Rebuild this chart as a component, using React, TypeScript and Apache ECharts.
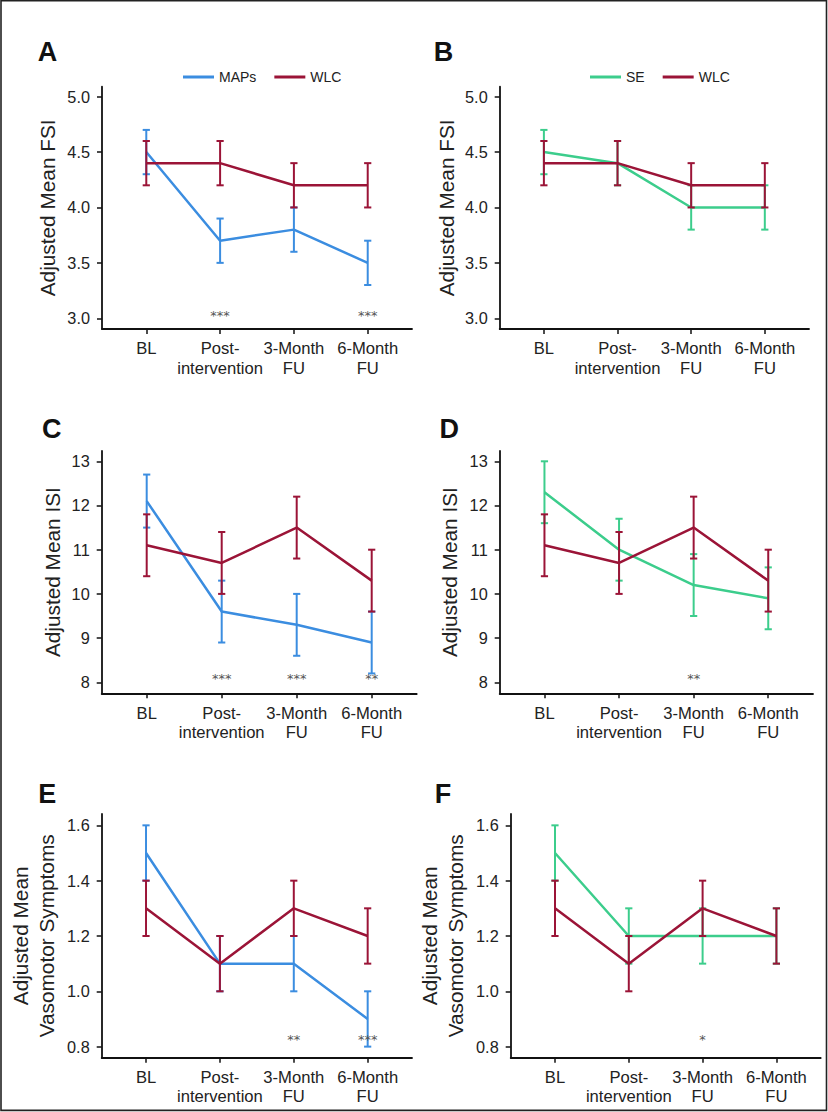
import React, { useEffect, useRef } from "react";
import * as echarts from "echarts";

const FONT = "'Liberation Sans', Arial, Helvetica, sans-serif";

const timepoints = ["BL", "Post-\nintervention", "3-Month\nFU", "6-Month\nFU"];
const timeIndex = [0, 1, 2, 3];

// FSI (panels A, B)
const fsiMAPs = [4.5, 3.7, 3.8, 3.5];
const fsiMAPsLow = [4.3, 3.5, 3.6, 3.3];
const fsiMAPsHigh = [4.7, 3.9, 4.0, 3.7];
const fsiSE = [4.5, 4.4, 4.0, 4.0];
const fsiSELow = [4.3, 4.2, 3.8, 3.8];
const fsiSEHigh = [4.7, 4.6, 4.2, 4.2];
const fsiWLC = [4.4, 4.4, 4.2, 4.2];
const fsiWLCLow = [4.2, 4.2, 4.0, 4.0];
const fsiWLCHigh = [4.6, 4.6, 4.4, 4.4];

// ISI (panels C, D)
const isiMAPs = [12.1, 9.6, 9.3, 8.9];
const isiMAPsLow = [11.5, 8.9, 8.6, 8.2];
const isiMAPsHigh = [12.7, 10.3, 10.0, 9.6];
const isiSE = [12.3, 11.0, 10.2, 9.9];
const isiSELow = [11.6, 10.3, 9.5, 9.2];
const isiSEHigh = [13.0, 11.7, 10.9, 10.6];
const isiWLC = [11.1, 10.7, 11.5, 10.3];
const isiWLCLow = [10.4, 10.0, 10.8, 9.6];
const isiWLCHigh = [11.8, 11.4, 12.2, 11.0];

// Vasomotor symptoms (panels E, F)
const vmsMAPs = [1.5, 1.1, 1.1, 0.9];
const vmsMAPsLow = [1.4, 1.0, 1.0, 0.8];
const vmsMAPsHigh = [1.6, 1.2, 1.2, 1.0];
const vmsSE = [1.5, 1.2, 1.2, 1.2];
const vmsSELow = [1.4, 1.1, 1.1, 1.1];
const vmsSEHigh = [1.6, 1.3, 1.3, 1.3];
const vmsWLC = [1.3, 1.1, 1.3, 1.2];
const vmsWLCLow = [1.2, 1.0, 1.2, 1.1];
const vmsWLCHigh = [1.4, 1.2, 1.4, 1.3];

// significance markers
const sigA = ["", "***", "", "***"];
const sigB = ["", "", "", ""];
const sigC = ["", "***", "***", "**"];
const sigD = ["", "", "**", ""];
const sigE = ["", "", "**", "***"];
const sigF = ["", "", "*", ""];

// tick labels
const fsiTicks = [3.0, 3.5, 4.0, 4.5, 5.0];
const isiTicks = [8, 9, 10, 11, 12, 13];
const vmsTicks = [0.8, 1.0, 1.2, 1.4, 1.6];

const BLUE = "#3b8de0";
const RED = "#9b1437";
const GREEN = "#3ccd8c";

type Panel = {
  letter: string;
  letterPos: [number, number];
  grid: { left: number; top: number; width: number; height: number };
  yMin: number;
  yMax: number;
  ticks: number[];
  decimals: number;
  title: string;
  nameGap: number;
  nameLineHeight: number;
  treatName: string;
  treatColor: string;
  treat: number[];
  treatLow: number[];
  treatHigh: number[];
  wlc: number[];
  wlcLow: number[];
  wlcHigh: number[];
  sig: string[];
  sigY: number;
};

const panels: Panel[] = [
  {
    letter: "A", letterPos: [47.5, 52],
    grid: { left: 102, top: 86.7, width: 310, height: 242.3 },
    yMin: 2.903, yMax: 5.09, ticks: fsiTicks, decimals: 1,
    title: "Adjusted Mean FSI", nameGap: 44, nameLineHeight: 21,
    treatName: "MAPs", treatColor: BLUE, treat: fsiMAPs, treatLow: fsiMAPsLow, treatHigh: fsiMAPsHigh,
    wlc: fsiWLC, wlcLow: fsiWLCLow, wlcHigh: fsiWLCHigh, sig: sigA, sigY: 3.05,
  },
  {
    letter: "B", letterPos: [443.5, 52],
    grid: { left: 499.7, top: 86.7, width: 309.3, height: 242.3 },
    yMin: 2.903, yMax: 5.09, ticks: fsiTicks, decimals: 1,
    title: "Adjusted Mean FSI", nameGap: 43, nameLineHeight: 21,
    treatName: "SE", treatColor: GREEN, treat: fsiSE, treatLow: fsiSELow, treatHigh: fsiSEHigh,
    wlc: fsiWLC, wlcLow: fsiWLCLow, wlcHigh: fsiWLCHigh, sig: sigB, sigY: 3.05,
  },
  {
    letter: "C", letterPos: [51.7, 429],
    grid: { left: 101.7, top: 451, width: 315, height: 242.3 },
    yMin: 7.751, yMax: 13.233, ticks: isiTicks, decimals: 0,
    title: "Adjusted Mean ISI", nameGap: 39, nameLineHeight: 21,
    treatName: "MAPs", treatColor: BLUE, treat: isiMAPs, treatLow: isiMAPsLow, treatHigh: isiMAPsHigh,
    wlc: isiWLC, wlcLow: isiWLCLow, wlcHigh: isiWLCHigh, sig: sigC, sigY: 8.165,
  },
  {
    letter: "D", letterPos: [449.3, 429.3],
    grid: { left: 499.7, top: 451, width: 313.3, height: 242.3 },
    yMin: 7.751, yMax: 13.233, ticks: isiTicks, decimals: 0,
    title: "Adjusted Mean ISI", nameGap: 40, nameLineHeight: 21,
    treatName: "SE", treatColor: GREEN, treat: isiSE, treatLow: isiSELow, treatHigh: isiSEHigh,
    wlc: isiWLC, wlcLow: isiWLCLow, wlcHigh: isiWLCHigh, sig: sigD, sigY: 8.165,
  },
  {
    letter: "E", letterPos: [47.2, 794],
    grid: { left: 101.7, top: 814, width: 310.3, height: 243.7 },
    yMin: 0.76, yMax: 1.641, ticks: vmsTicks, decimals: 1,
    title: "Adjusted Mean\nVasomotor Symptoms", nameGap: 42, nameLineHeight: 26,
    treatName: "MAPs", treatColor: BLUE, treat: vmsMAPs, treatLow: vmsMAPsLow, treatHigh: vmsMAPsHigh,
    wlc: vmsWLC, wlcLow: vmsWLCLow, wlcHigh: vmsWLCHigh, sig: sigE, sigY: 0.836,
  },
  {
    letter: "F", letterPos: [443, 794],
    grid: { left: 510.7, top: 814, width: 310, height: 243.7 },
    yMin: 0.76, yMax: 1.641, ticks: vmsTicks, decimals: 1,
    title: "Adjusted Mean\nVasomotor Symptoms", nameGap: 42, nameLineHeight: 26,
    treatName: "SE", treatColor: GREEN, treat: vmsSE, treatLow: vmsSELow, treatHigh: vmsSEHigh,
    wlc: vmsWLC, wlcLow: vmsWLCLow, wlcHigh: vmsWLCHigh, sig: sigF, sigY: 0.836,
  },
];

function errorBarSeries(name: string, color: string, low: number[], high: number[], k: number, z: number) {
  return {
    type: "custom",
    name,
    xAxisIndex: k,
    yAxisIndex: k,
    z,
    silent: true,
    encode: { x: 0, y: [1, 2] },
    data: timeIndex.map((i) => [i, low[i], high[i]]),
    renderItem: (_params: any, api: any) => {
      const x = api.value(0);
      const pLo = api.coord([x, api.value(1)]);
      const pHi = api.coord([x, api.value(2)]);
      const hw = 3.6;
      const st = { stroke: color, lineWidth: 2 };
      return {
        type: "group",
        children: [
          { type: "line", shape: { x1: pHi[0], y1: pHi[1], x2: pLo[0], y2: pLo[1] }, style: st },
          { type: "line", shape: { x1: pHi[0] - hw, y1: pHi[1], x2: pHi[0] + hw, y2: pHi[1] }, style: st },
          { type: "line", shape: { x1: pLo[0] - hw, y1: pLo[1], x2: pLo[0] + hw, y2: pLo[1] }, style: st },
        ],
      };
    },
  };
}

function sigSeries(sig: string[], y: number, k: number) {
  const entries = sig.map((s, i) => ({ s, i })).filter((e) => e.s);
  return {
    type: "custom",
    xAxisIndex: k,
    yAxisIndex: k,
    z: 10,
    silent: true,
    data: entries.map((e) => [e.i, y]),
    renderItem: (params: any, api: any) => {
      const p = api.coord([api.value(0), api.value(1)]);
      return {
        type: "text",
        x: p[0],
        y: p[1] + 3,
        style: {
          text: entries[params.dataIndex].s,
          fill: "#555",
          fontSize: 13,
          fontFamily: "'DejaVu Sans', sans-serif",
          align: "center",
          verticalAlign: "middle",
        },
      };
    },
  };
}

export default function App() {
  const ref = useRef<HTMLDivElement>(null);

  useEffect(() => {
    if (!ref.current) return;
    const chart = echarts.init(ref.current, undefined, { renderer: "svg" });

    const grids: any[] = [];
    const xAxes: any[] = [];
    const yAxes: any[] = [];
    const series: any[] = [];
    const graphics: any[] = [
      {
        type: "rect",
        shape: { x: 1, y: 0.8, width: 825.5, height: 1109.6 },
        style: { fill: "none", stroke: "#222", lineWidth: 1.6 },
        silent: true,
      },
    ];

    panels.forEach((p, k) => {
      grids.push({ ...p.grid, containLabel: false });
      xAxes.push({
        gridIndex: k,
        type: "value",
        min: -0.6,
        max: 3.6,
        axisLine: { show: true, onZero: false, lineStyle: { color: "#111", width: 1.8 } },
        axisTick: { show: true, customValues: timeIndex, length: 5, lineStyle: { color: "#111", width: 1.5 } },
        axisLabel: {
          show: true,
          customValues: timeIndex,
          formatter: (v: number) => timepoints[Math.round(v)] ?? "",
          fontSize: 16.6,
          lineHeight: 19.5,
          color: "#222",
          margin: 10,
          fontFamily: FONT,
        },
        splitLine: { show: false },
      });
      yAxes.push({
        gridIndex: k,
        type: "value",
        min: p.yMin,
        max: p.yMax,
        axisLine: { show: true, onZero: false, lineStyle: { color: "#111", width: 1.8 } },
        axisTick: { show: true, customValues: p.ticks, length: 5, lineStyle: { color: "#111", width: 1.5 } },
        axisLabel: {
          show: true,
          customValues: p.ticks,
          formatter: (v: number) => v.toFixed(p.decimals),
          fontSize: 16.3,
          color: "#222",
          margin: 12,
          fontFamily: FONT,
        },
        splitLine: { show: false },
        name: p.title,
        nameLocation: "middle",
        nameRotate: 90,
        nameGap: p.nameGap,
        nameTextStyle: { fontSize: 20.8, color: "#222", fontFamily: FONT, lineHeight: p.nameLineHeight },
      });

      series.push({
        type: "line",
        name: p.treatName,
        xAxisIndex: k,
        yAxisIndex: k,
        symbol: "none",
        color: p.treatColor,
        lineStyle: { color: p.treatColor, width: 2.5 },
        z: 2,
        data: timeIndex.map((i) => [i, p.treat[i]]),
      });
      series.push(errorBarSeries(p.treatName, p.treatColor, p.treatLow, p.treatHigh, k, 3));
      series.push({
        type: "line",
        name: "WLC",
        xAxisIndex: k,
        yAxisIndex: k,
        symbol: "none",
        color: RED,
        lineStyle: { color: RED, width: 2.5 },
        z: 4,
        data: timeIndex.map((i) => [i, p.wlc[i]]),
      });
      series.push(errorBarSeries("WLC", RED, p.wlcLow, p.wlcHigh, k, 5));
      series.push(sigSeries(p.sig, p.sigY, k));

      graphics.push({
        type: "text",
        x: p.letterPos[0],
        y: p.letterPos[1],
        silent: true,
        style: {
          text: p.letter,
          fill: "#111",
          fontSize: 27,
          fontWeight: "bold",
          fontFamily: FONT,
          align: "center",
          verticalAlign: "middle",
        },
      });
    });

    const legendBase = {
      icon: "rect",
      itemWidth: 31,
      itemHeight: 3,
      itemGap: 18,
      top: 65,
      selectedMode: false,
      textStyle: { fontSize: 14, color: "#222", fontFamily: FONT },
    };

    chart.setOption({
      animation: false,
      backgroundColor: "#ffffff",
      grid: grids,
      xAxis: xAxes,
      yAxis: yAxes,
      series,
      legend: [
        { ...legendBase, left: 178, data: ["MAPs", "WLC"] },
        { ...legendBase, left: 585, data: ["SE", "WLC"] },
      ],
      graphic: graphics,
    });

    return () => chart.dispose();
  }, []);

  return (
    <div
      ref={ref}
      style={{ position: "absolute", left: 0, top: 0, width: 828, height: 1112, background: "#fff" }}
    />
  );
}
